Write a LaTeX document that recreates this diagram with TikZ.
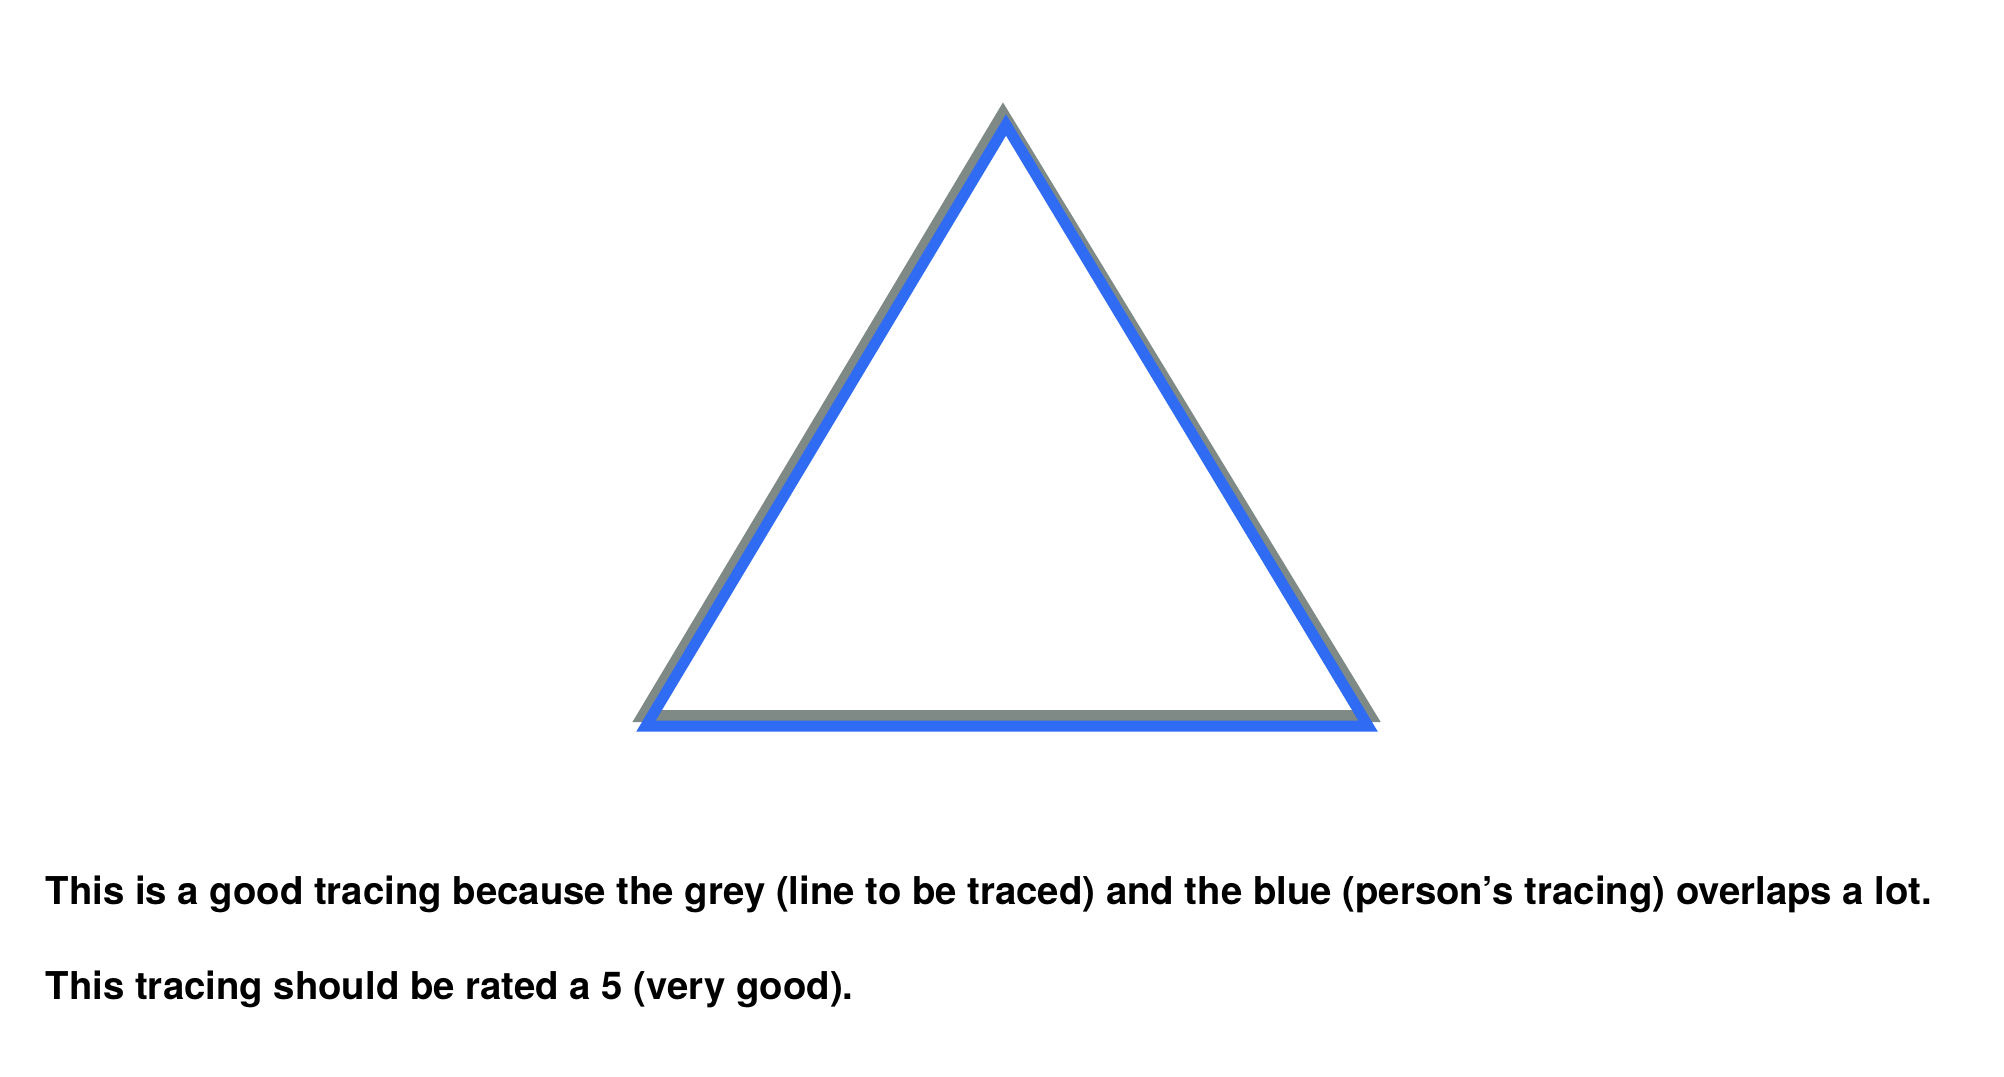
\documentclass[tikz,border=0pt]{standalone}
\usepackage{fontspec}
\setmainfont{TeX Gyre Heros}
\usepackage{tikz}
\definecolor{traceGrey}{HTML}{7F8A87}
\definecolor{traceBlue}{HTML}{2F6BF3}

\begin{document}
\begin{tikzpicture}[x=0.01cm,y=-0.01cm,line join=miter,font=\fontsize{10.9}{13}\selectfont\bfseries]
\useasboundingbox (0,0) rectangle (2004,1076);
% line to be traced
\draw[traceGrey,line width=0.12cm] (1003,114)--(643,716)--(1370,716)--cycle;
% person's tracing
\draw[traceBlue,line width=0.11cm] (1006,125)--(646,726)--(1368,726)--cycle;
\node[anchor=base west,inner sep=0pt] (lineA) at (45,904) {This is a good tracing because the grey (line to be traced) and the blue (person’s tracing) overlaps a lot.};
\node[anchor=base west,inner sep=0pt] (lineB) at (45,999) {This tracing should be rated a 5 (very good).};
\end{tikzpicture}
\end{document}
